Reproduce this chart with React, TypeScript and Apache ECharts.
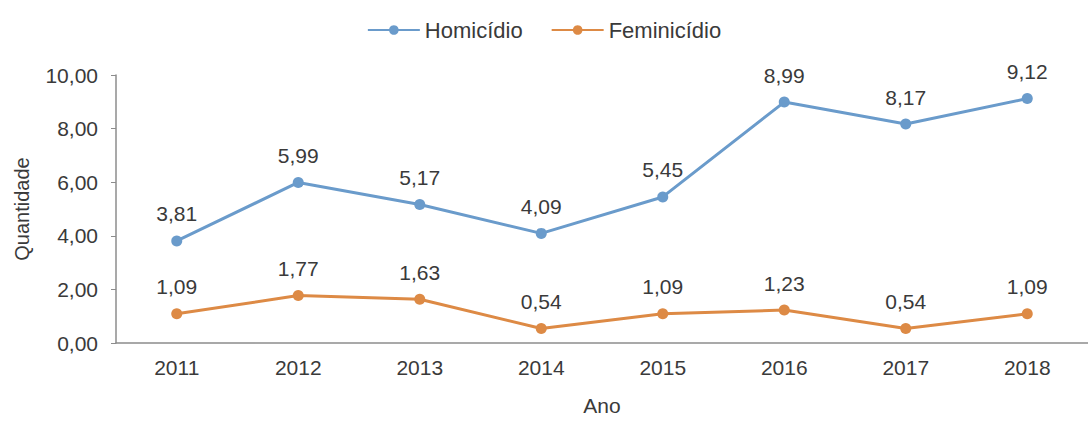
import React, { useEffect, useRef } from "react";
import * as echarts from "echarts";

const years = ["2011", "2012", "2013", "2014", "2015", "2016", "2017", "2018"];
const homicidio = [3.81, 5.99, 5.17, 4.09, 5.45, 8.99, 8.17, 9.12];
const feminicidio = [1.09, 1.77, 1.63, 0.54, 1.09, 1.23, 0.54, 1.09];
const seriesNames = ["Homicídio", "Feminicídio"];

const fmt = (v: number) => v.toFixed(2).replace(".", ",");
const FONT = "Liberation Sans, Arial, sans-serif";
const TXT = "#3a3a3a";

export default function App() {
  const ref = useRef<HTMLDivElement>(null);
  useEffect(() => {
    if (!ref.current) return;
    const chart = echarts.init(ref.current, undefined, { renderer: "svg" });
    const mkSeries = (name: string, data: number[], color: string) => ({
      name,
      type: "line",
      data,
      symbol: "circle",
      symbolSize: 11,
      lineStyle: { width: 3, color },
      itemStyle: { color },
      label: {
        show: true,
        position: "top",
        distance: 11,
        formatter: (p: any) => fmt(p.value),
        fontSize: 21,
        fontFamily: FONT,
        color: TXT,
      },
    });
    chart.setOption({
      animation: false,
      backgroundColor: "#ffffff",
      legend: {
        top: 14,
        left: "center",
        itemWidth: 52,
        itemHeight: 12,
        itemGap: 28,
        textStyle: { fontSize: 22, fontFamily: FONT, color: TXT },
        data: seriesNames,
      },
      grid: { left: 116, top: 75, width: 980, height: 272 },
      xAxis: {
        type: "category",
        data: years,
        boundaryGap: true,
        name: "Ano",
        nameLocation: "middle",
        nameGap: 52,
        nameTextStyle: { fontSize: 21, fontFamily: FONT, color: TXT },
        axisLine: { lineStyle: { color: "#8c8c8c", width: 1.5 } },
        axisTick: { inside: true, length: 7, lineStyle: { color: "#8c8c8c" } },
        axisLabel: { fontSize: 21, fontFamily: FONT, color: TXT, margin: 14 },
      },
      yAxis: {
        type: "value",
        min: 0,
        max: 10,
        interval: 2,
        name: "Quantidade",
        nameLocation: "middle",
        nameGap: 84,
        nameTextStyle: { fontSize: 20, fontFamily: FONT, color: TXT },
        axisLine: { show: true, lineStyle: { color: "#8c8c8c", width: 1.5 } },
        axisTick: { show: true, length: 5, lineStyle: { color: "#8c8c8c" } },
        splitLine: { show: false },
        axisLabel: {
          fontSize: 21,
          fontFamily: FONT,
          color: TXT,
          margin: 18,
          formatter: (v: number) => fmt(v),
        },
      },
      series: [
        mkSeries(seriesNames[0], homicidio, "#6a9bcb"),
        mkSeries(seriesNames[1], feminicidio, "#dd8a45"),
      ],
    });
    return () => chart.dispose();
  }, []);
  return (
    <div
      ref={ref}
      style={{ position: "fixed", left: 0, top: 0, width: 1088, height: 421 }}
    />
  );
}
